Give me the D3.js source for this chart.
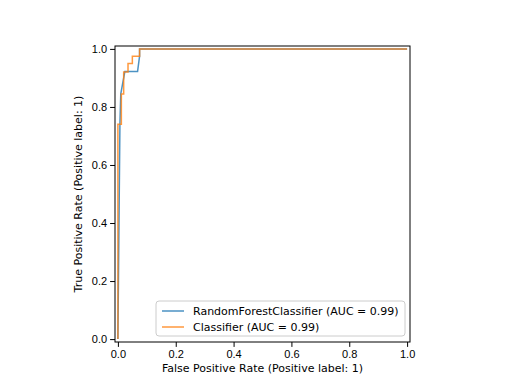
<!DOCTYPE html>
<html>
<head>
<meta charset="UTF-8">
<style>
  body { margin: 0; background: #fff; }
  svg { font-family: "DejaVu Sans", sans-serif; }
  .tick text { font-size: 11px; fill: #000; }
  .tick line { stroke: #000; }
</style>
</head>
<body>
<svg id="chart" width="512" height="384"></svg>
<script src="https://d3js.org/d3.v7.min.js"></script>
<script>
const names = ["RandomForestClassifier (AUC = 0.99)", "Classifier (AUC = 0.99)"];
const colors = ["#1f77b4", "#ff7f0e"];
const rfFpr = [0, 0.007, 0.01, 0.024, 0.068, 0.075, 0.075, 1];
const rfTpr = [0, 0.74, 0.845, 0.922, 0.922, 0.975, 1, 1];
const clfFpr = [0, 0, 0.012, 0.012, 0.02, 0.02, 0.035, 0.035, 0.05, 0.05, 0.075, 0.075, 1];
const clfTpr = [0, 0.74, 0.74, 0.845, 0.845, 0.92, 0.92, 0.95, 0.95, 0.975, 0.975, 1, 1];
const ticks = [0, 0.2, 0.4, 0.6, 0.8, 1.0];

const svg = d3.select("#chart");
const mLeft = 115, mRight = 410, mTop = 46, mBottom = 342;

const x = d3.scaleLinear().domain([-0.01, 1.01]).range([mLeft, mRight]);
const y = d3.scaleLinear().domain([-0.01, 1.01]).range([mBottom, mTop]);

const series = [
  rfFpr.map((f, i) => [f, rfTpr[i]]),
  clfFpr.map((f, i) => [f, clfTpr[i]])
];

const line = d3.line().x(d => x(d[0])).y(d => y(d[1]));

svg.append("g").selectAll("path")
  .data(series)
  .enter().append("path")
  .attr("d", line)
  .attr("fill", "none")
  .attr("stroke", (d, i) => colors[i])
  .attr("stroke-opacity", 0.8)
  .attr("stroke-width", 1.5);

// frame
svg.append("rect")
  .attr("x", mLeft).attr("y", mTop)
  .attr("width", mRight - mLeft).attr("height", mBottom - mTop)
  .attr("fill", "none").attr("stroke", "#000").attr("stroke-width", 1);

const xAxis = svg.append("g")
  .attr("transform", `translate(0,${mBottom})`)
  .call(d3.axisBottom(x).tickValues(ticks).tickFormat(d3.format(".1f")).tickSize(4.9).tickPadding(3));
const yAxis = svg.append("g")
  .attr("transform", `translate(${mLeft},0)`)
  .call(d3.axisLeft(y).tickValues(ticks).tickFormat(d3.format(".1f")).tickSize(4.9).tickPadding(3));
xAxis.select(".domain").remove();
yAxis.select(".domain").remove();

svg.append("text")
  .attr("x", (mLeft + mRight) / 2).attr("y", 372)
  .attr("text-anchor", "middle").attr("font-size", 11)
  .text("False Positive Rate (Positive label: 1)");
svg.append("text")
  .attr("transform", `translate(82,${(mTop + mBottom) / 2}) rotate(-90)`)
  .attr("text-anchor", "middle").attr("font-size", 11)
  .text("True Positive Rate (Positive label: 1)");

// legend
const lg = svg.append("g");
lg.append("rect")
  .attr("x", 156).attr("y", 301).attr("width", 249).attr("height", 35)
  .attr("rx", 3).attr("fill", "#fff").attr("fill-opacity", 0.8)
  .attr("stroke", "#ccc").attr("stroke-width", 1);
names.forEach((n, i) => {
  const yy = 311 + i * 16;
  lg.append("line")
    .attr("x1", 162).attr("x2", 184).attr("y1", yy).attr("y2", yy)
    .attr("stroke", colors[i]).attr("stroke-opacity", 0.8).attr("stroke-width", 1.5);
  lg.append("text")
    .attr("x", 193).attr("y", yy + 4)
    .attr("font-size", 11).text(n);
});
</script>
</body>
</html>
